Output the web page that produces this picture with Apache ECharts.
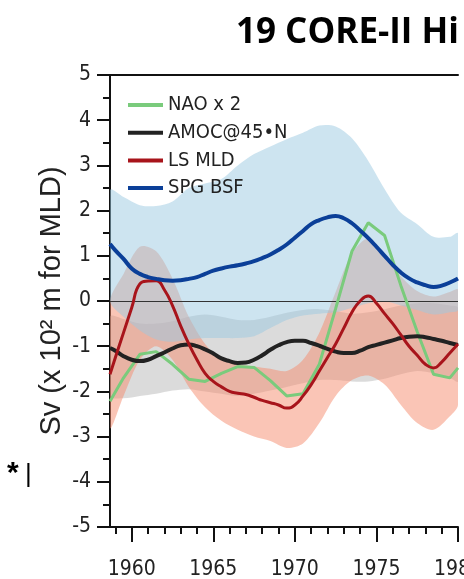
<!DOCTYPE html>
<html><head><meta charset="utf-8">
<script src="https://cdn.jsdelivr.net/npm/echarts@6/dist/echarts.min.js"></script>
<style>html,body{margin:0;padding:0;background:#fff}#c{width:464px;height:579px}</style>
</head><body><div id="c"></div>
<script>
// x positions (years)
const halfYears = [1958.67,1959,1959.5,1960,1960.5,1961,1961.5,1962,1962.5,1963,1963.5,1964,1964.5,1965,1965.5,1966,1966.5,1967,1967.5,1968,1968.5,1969,1969.5,1970,1970.5,1971,1971.5,1972,1972.5,1973,1973.5,1974,1974.5,1975,1975.5,1976,1976.5,1977,1977.5,1978,1978.5,1979,1979.5,1980];
const annualYears = [1958.67,1959.5,1960.5,1961.5,1962.5,1963.5,1964.5,1965.5,1966.5,1967.5,1968.5,1969.5,1970.5,1971.5,1972.5,1973.5,1974.5,1975.5,1976.5,1977.5,1978.5,1979.5,1980];

// series values
const spgBsf = [1.26,1.12,0.93,0.72,0.6,0.53,0.49,0.46,0.45,0.46,0.49,0.53,0.6,0.67,0.72,0.76,0.79,0.83,0.88,0.95,1.03,1.13,1.25,1.4,1.55,1.7,1.79,1.85,1.88,1.83,1.72,1.56,1.39,1.2,1.0,0.8,0.63,0.5,0.41,0.35,0.31,0.34,0.41,0.5];
const amoc45N = [-1.04,-1.1,-1.22,-1.3,-1.33,-1.3,-1.22,-1.14,-1.05,-0.98,-0.96,-1.0,-1.07,-1.16,-1.27,-1.33,-1.37,-1.36,-1.3,-1.2,-1.08,-0.98,-0.91,-0.88,-0.88,-0.93,-0.99,-1.06,-1.12,-1.15,-1.15,-1.1,-1.02,-0.97,-0.92,-0.87,-0.82,-0.79,-0.78,-0.8,-0.84,-0.88,-0.93,-0.97];
const lsMld = [-1.62,-1.25,-0.7,-0.15,0.38,0.44,0.45,0.25,-0.1,-0.55,-0.95,-1.3,-1.6,-1.78,-1.9,-2.0,-2.04,-2.07,-2.13,-2.2,-2.25,-2.3,-2.37,-2.3,-2.1,-1.85,-1.55,-1.25,-0.95,-0.6,-0.25,0.0,0.11,-0.05,-0.28,-0.5,-0.75,-1.0,-1.2,-1.4,-1.48,-1.35,-1.15,-0.95];
const naoX2 = [-2.22,-1.7,-1.18,-1.12,-1.4,-1.73,-1.78,-1.6,-1.45,-1.47,-1.76,-2.1,-2.05,-1.4,-0.17,1.1,1.73,1.45,0.34,-0.68,-1.62,-1.7,-1.48];

// spread bands (annual)
const spgBandTop    = [2.45,2.3,2.12,2.1,2.2,2.5,2.6,2.7,3.0,3.25,3.42,3.58,3.72,3.88,3.86,3.6,3.1,2.48,1.95,1.7,1.42,1.42,1.5];
const spgBandBottom = [0.0,-0.35,-0.65,-0.85,-0.9,-0.85,-0.82,-0.82,-0.82,-0.78,-0.6,-0.42,-0.32,-0.28,-0.25,-0.15,-0.05,0.0,-0.1,-0.2,-0.3,-0.25,-0.2];
const amocBandTop    = [-0.35,-0.4,-0.5,-0.5,-0.45,-0.35,-0.3,-0.35,-0.42,-0.42,-0.35,-0.26,-0.2,-0.18,-0.22,-0.28,-0.25,-0.18,-0.1,-0.05,-0.05,-0.1,-0.15];
const amocBandBottom = [-2.1,-2.15,-2.1,-2.05,-1.98,-1.95,-2.0,-2.05,-2.1,-2.05,-1.98,-1.9,-1.82,-1.75,-1.75,-1.78,-1.78,-1.72,-1.62,-1.55,-1.6,-1.7,-1.78];
const mldBandTop    = [0.0,0.6,1.2,1.1,0.5,-0.35,-0.95,-1.3,-1.4,-1.45,-1.5,-1.55,-1.3,-0.7,0.2,1.05,1.38,1.0,0.55,0.22,0.1,0.2,0.25];
const mldBandBottom = [-2.8,-2.1,-1.3,-1.0,-1.3,-1.9,-2.35,-2.65,-2.85,-3.0,-3.1,-3.25,-3.15,-2.7,-2.1,-1.75,-1.65,-1.85,-2.3,-2.7,-2.85,-2.55,-2.3];

// ticks
const majorYearTicks = [1960,1965,1970,1975,1980];
const minorYearTicks = [1959,1960,1961,1962,1963,1964,1965,1966,1967,1968,1969,1970,1971,1972,1973,1974,1975,1976,1977,1978,1979,1980];
const legendNames = ['NAO x 2','AMOC@45\u2022N','LS MLD','SPG BSF'];

const NARROW = "'Liberation Sans Narrow','DejaVu Sans Condensed',sans-serif";
const XMIN = 1958.67, XMAX = 1980;

function pairs(xs, ys){ return xs.map((x,i)=>[x,ys[i]]); }
function band(xs, lo, hi, color, z){
  return {type:'custom', coordinateSystem:'cartesian2d', silent:true, z:z, clip:true,
    data: xs.map((x,i)=>[x, lo[i], hi[i]]),
    encode:{x:0, y:[1,2]},
    renderItem:function(params, api){
      if (params.dataIndex !== 0) return null;
      const pts = [];
      for (let i=0;i<xs.length;i++) pts.push(api.coord([xs[i], hi[i]]));
      for (let i=xs.length-1;i>=0;i--) pts.push(api.coord([xs[i], lo[i]]));
      return {type:'polygon', shape:{points:pts, smooth:0.3}, style:{fill:color, stroke:null}};
    }};
}
function lineS(name, xs, ys, color, width, smooth){
  return {type:'line', name:name, data:pairs(xs,ys), symbol:'none', smooth:smooth,
    lineStyle:{color:color, width:width}, itemStyle:{color:color}, z:10};
}

const chart = echarts.init(document.getElementById('c'), null, {renderer:'canvas'});
const nao = lineS(legendNames[0], annualYears, naoX2, '#7acb7c', 3, false);
nao.markLine = {silent:true, symbol:'none', label:{show:false},
  lineStyle:{color:'#333', width:1, type:'solid'}, data:[{yAxis:0}]};

const axisCommon = {type:'value', min:XMIN, max:XMAX, splitLine:{show:false}};
chart.setOption({
  animation:false,
  title:{text:'19 CORE-II Hi', left:231, top:11,
    textStyle:{fontFamily:"'Open Sans',sans-serif", fontWeight:'bold', fontSize:35, color:'#000'}},
  graphic:[
    {type:'text', left:7, top:459, style:{text:'*', font:"bold 30px 'Liberation Sans',sans-serif", fill:'#000'}},
    {type:'text', left:25, top:462, style:{text:'|', font:"26px 'Liberation Sans',sans-serif", fill:'#000'}}
  ],
  legend:{data:legendNames, orient:'vertical', left:128, top:95, padding:0, icon:'rect', itemWidth:35, itemHeight:4,
    itemGap:7.7, textStyle:{fontFamily:NARROW, fontSize:20, color:'#222'}},
  grid:{left:110, right:6, top:75, bottom:52, containLabel:false, outerBoundsMode:'none'},
  xAxis:[
    Object.assign({}, axisCommon, {position:'bottom',
      axisLine:{show:true, onZero:false, lineStyle:{color:'#111', width:2}},
      axisTick:{show:true, customValues:majorYearTicks, length:15, lineStyle:{color:'#111', width:2}},
      axisLabel:{show:true, customValues:majorYearTicks, margin:32, fontFamily:NARROW, fontSize:21, color:'#222',
        formatter:function(v){ return String(Math.round(v)); }}}),
    Object.assign({}, axisCommon, {position:'bottom',
      axisLine:{show:false, onZero:false},
      axisTick:{show:true, customValues:minorYearTicks, length:7, lineStyle:{color:'#111', width:2}},
      axisLabel:{show:false}}),
    Object.assign({}, axisCommon, {position:'top',
      axisLine:{show:true, onZero:false, lineStyle:{color:'#111', width:2}},
      axisTick:{show:false}, axisLabel:{show:false}})
  ],
  yAxis:{type:'value', min:-5, max:5, interval:1,
    name:'Sv (x 10\u00B2 m for MLD)', nameLocation:'middle', nameGap:44, nameRotate:90, nameMoveOverlap:false,
    nameTextStyle:{fontFamily:"'Liberation Sans',sans-serif", fontSize:29, color:'#222'},
    axisLine:{show:true, onZero:false, lineStyle:{color:'#111', width:2}},
    axisTick:{show:true, length:13, lineStyle:{color:'#111', width:2}},
    minorTick:{show:true, splitNumber:2, length:7, lineStyle:{color:'#111', width:2}},
    axisLabel:{margin:19, fontFamily:NARROW, fontSize:21, color:'#222'},
    splitLine:{show:false}, minorSplitLine:{show:false}},
  series:[
    band(annualYears, amocBandBottom, amocBandTop, 'rgba(170,170,170,0.42)', 1),
    band(annualYears, mldBandBottom, mldBandTop, 'rgba(245,140,110,0.5)', 2),
    band(annualYears, spgBandBottom, spgBandTop, 'rgba(155,201,225,0.5)', 3),
    nao,
    lineS(legendNames[1], halfYears, amoc45N, '#222222', 4, 0.5),
    lineS(legendNames[2], halfYears, lsMld, '#a8141b', 3, 0.5),
    lineS(legendNames[3], halfYears, spgBsf, '#0b3f98', 4, 0.5)
  ]
});
</script></body></html>
